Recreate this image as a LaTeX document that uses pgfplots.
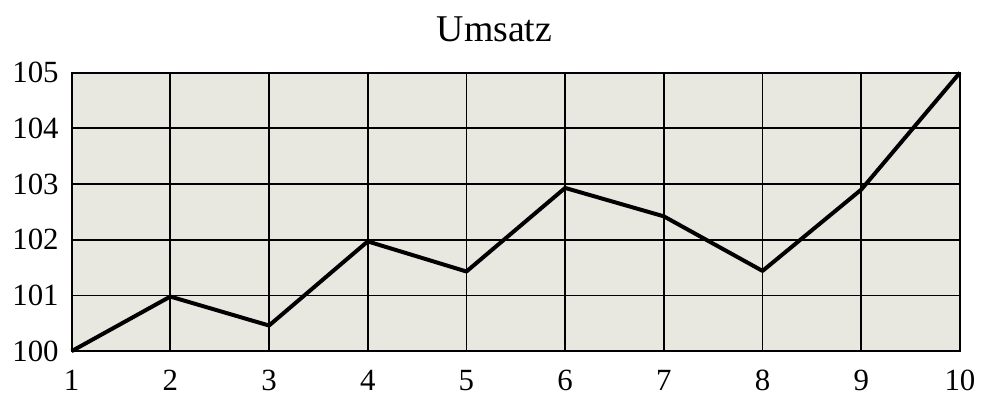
\documentclass[border=0pt]{standalone}
\usepackage{pgfplots}
\pgfplotsset{compat=1.18}
\usepackage{fontspec}
\setmainfont{Liberation Serif}
\definecolor{paper}{rgb}{0.91,0.91,0.88}
\begin{document}
\begin{tikzpicture}
\begin{axis}[
  scale only axis,
  width=446.5pt, height=140pt,
  xmin=1, xmax=10, ymin=100, ymax=105,
  xtick={1,...,10}, ytick={100,...,105},
  grid=major,
  major grid style={black, line width=0.9pt},
  axis line style={black, line width=1pt},
  axis background/.style={fill=paper},
  tick style={draw=none},
  /pgf/number format/assume math mode=true,
  /pgf/number format/1000 sep={},
  ticklabel style={font=\fontsize{15.5}{18}\selectfont},
  xticklabel style={anchor=north, yshift=-6pt},
  yticklabel style={anchor=east, xshift=-3pt},
  clip=false,
]
\addplot[black, line width=2pt, line join=round] coordinates {
(1,100) (2,100.98) (3,100.46) (4,101.97) (5,101.43) (6,102.93) (7,102.42) (8,101.44) (9,102.9) (10,105)
};
\node[font=\fontsize{19}{22}\selectfont, anchor=base] at (rel axis cs:0.476,1) [yshift=15.5pt] {Umsatz};
\end{axis}
\path ([xshift=-36pt,yshift=-27pt]current axis.south west) rectangle ([xshift=8.5pt,yshift=36.5pt]current axis.north east);
\end{tikzpicture}
\end{document}
